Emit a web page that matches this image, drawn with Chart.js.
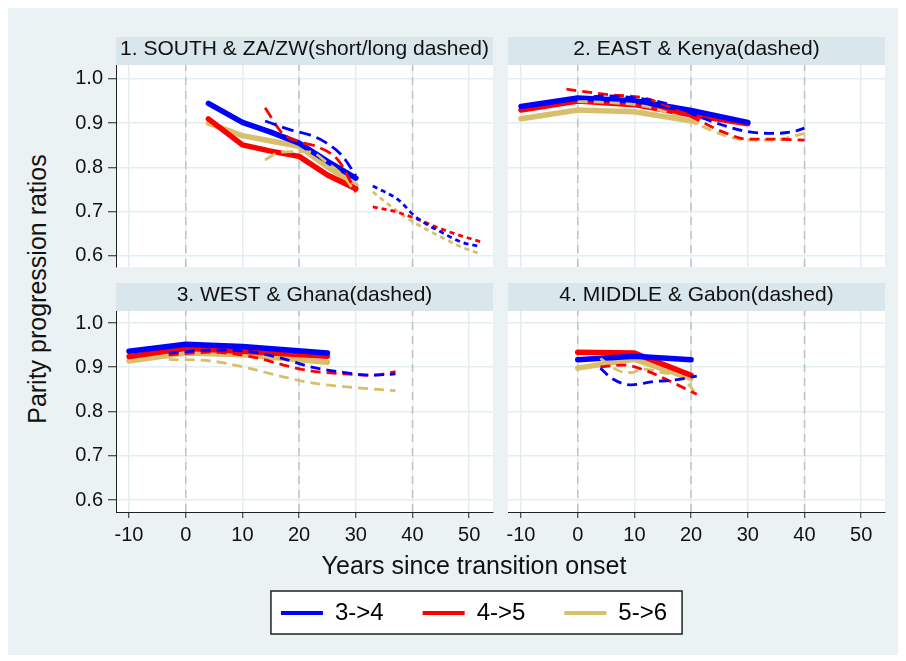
<!DOCTYPE html>
<html>
<head>
<meta charset="utf-8">
<script src="https://cdn.jsdelivr.net/npm/chart.js@4.4.0/dist/chart.umd.min.js"></script>
<style>
  body { margin: 0; width: 906px; height: 661px; background: #fff; position: relative; overflow: hidden;
         font-family: 'Liberation Sans', Arial, sans-serif; }
  #bg { position: absolute; left: 8px; top: 8px; width: 890px; height: 647px; background: #eaf2f3; }
  canvas { position: absolute; }
  #ytitle { position: absolute; left: -163px; top: 274px; width: 400px; height: 30px; line-height: 30px;
            text-align: center; font-size: 25px; color: #111; transform: rotate(-90deg); }
</style>
</head>
<body>
<div id="bg"></div>
<div id="ytitle">Parity progression ratios</div>
<canvas id="p1" width="500" height="232" style="left:0px;top:37px"></canvas>
<canvas id="p2" width="400" height="232" style="left:500px;top:37px"></canvas>
<canvas id="p3" width="500" height="274" style="left:0px;top:283px"></canvas>
<canvas id="p4" width="400" height="274" style="left:500px;top:283px"></canvas>
<canvas id="leg" width="600" height="200" style="left:174px;top:545px"></canvas>
<script>
// ---- data ----
const xTicks = [-10, 0, 10, 20, 30, 40, 50];
const yTicks = [0.6, 0.7, 0.8, 0.9, 1.0];
const vLines = [0, 20, 40];
const seriesNames = ['3->4', '4->5', '5->6'];
const panelTitles = ['1. SOUTH & ZA/ZW(short/long dashed)', '2. EAST & Kenya(dashed)',
                     '3. WEST & Ghana(dashed)', '4. MIDDLE & Gabon(dashed)'];

// 1. SOUTH region (solid)
const southX = [4, 10, 15, 20, 25, 30];
const south34 = [0.945, 0.902, 0.880, 0.855, 0.814, 0.776];
const south45 = [0.910, 0.851, 0.837, 0.825, 0.783, 0.752];
const south56 = [0.900, 0.872, 0.860, 0.848, 0.801, 0.760];
// ZA (long dashed)
const za34X = [14, 18.5, 22, 24.5, 27.5, 30];
const za34 = [0.905, 0.885, 0.873, 0.858, 0.828, 0.782];
const za45X = [14, 17, 20, 23, 27, 29, 30];
const za45 = [0.935, 0.878, 0.858, 0.848, 0.815, 0.770, 0.745];
const za56X = [14, 16, 19, 22, 25, 28, 30];
const za56 = [0.817, 0.832, 0.836, 0.835, 0.810, 0.778, 0.742];
// ZW (short dashed)
const zw34X = [33, 37.5, 40.5, 45.5, 48.5, 52];
const zw34 = [0.758, 0.727, 0.689, 0.651, 0.632, 0.621];
const zw45X = [33, 37, 40.5, 45.5, 52];
const zw45 = [0.711, 0.700, 0.685, 0.659, 0.632];
const zw56X = [33, 37, 40.5, 45.5, 48.5, 51.5];
const zw56 = [0.745, 0.704, 0.674, 0.640, 0.621, 0.607];

// 2. EAST region
const eastX = [-10, 0, 10, 20, 30];
const east34 = [0.938, 0.957, 0.951, 0.929, 0.902];
const east45 = [0.930, 0.950, 0.942, 0.919, 0.899];
const east56X = [-10, 0, 10, 21];
const east56 = [0.910, 0.930, 0.926, 0.903];
// Kenya (dashed)
const ke34X = [0, 5, 12.5, 15.5, 20, 25.5, 30, 34.5, 38, 40];
const ke34 = [0.955, 0.962, 0.953, 0.945, 0.922, 0.896, 0.881, 0.877, 0.881, 0.889];
const ke45X = [-2, 5, 12, 20, 25.5, 30, 34.5, 40];
const ke45 = [0.977, 0.965, 0.956, 0.915, 0.881, 0.864, 0.864, 0.862];
const ke56X = [0, 5, 12, 20, 25.5, 30, 34.5, 40];
const ke56 = [0.949, 0.947, 0.938, 0.904, 0.874, 0.862, 0.862, 0.877];

// 3. WEST region
const westX = [-10, 0, 10, 25];
const west34 = [0.936, 0.952, 0.947, 0.932];
const west45 = [0.924, 0.943, 0.936, 0.925];
const west56 = [0.914, 0.932, 0.928, 0.911];
// Ghana (dashed)
const gh34X = [-3, 4.5, 11.5, 17, 22, 27, 33, 37];
const gh34 = [0.932, 0.939, 0.935, 0.920, 0.901, 0.890, 0.882, 0.885];
const gh45X = [-3, 4.5, 11.5, 18.5, 22, 28, 33, 37];
const gh45 = [0.928, 0.934, 0.924, 0.901, 0.892, 0.885, 0.882, 0.890];
const gh56X = [-3, 4.5, 10, 17, 22, 28, 37];
const gh56 = [0.918, 0.914, 0.901, 0.879, 0.865, 0.856, 0.847];

// 4. MIDDLE region
const midX = [0, 10, 20];
const mid34 = [0.917, 0.925, 0.917];
const mid45 = [0.934, 0.932, 0.882];
const mid56 = [0.898, 0.918, 0.875];
// Gabon (dashed)
const ga34X = [4, 6, 9.5, 13, 17, 21];
const ga34 = [0.898, 0.875, 0.860, 0.867, 0.871, 0.880];
const ga45X = [4, 8, 12.5, 16.5, 21];
const ga45 = [0.901, 0.905, 0.890, 0.867, 0.839];
const ga56X = [4, 5.5, 7.5, 9.5, 11.5, 15, 18, 19.5, 21];
const ga56 = [0.920, 0.905, 0.891, 0.888, 0.896, 0.888, 0.879, 0.862, 0.838];

// ---- styling ----
const BLUE = '#0000ff', RED = '#ff0000', TAN = '#d8bf6c';
const GRID = '#e4edef';
const FONT = "'Liberation Sans', Arial, sans-serif";
Chart.defaults.font.family = FONT;
Chart.defaults.color = '#111';

const X_MIN = -12.3, X_MAX = 54.2;

// header strip + white plot background
const headerStrip = {
  id: 'headerStrip',
  beforeDraw(chart, args, opts) {
    const { ctx, chartArea: a } = chart;
    ctx.save();
    ctx.fillStyle = '#d9e6eb';
    ctx.fillRect(a.left, 0, a.right - a.left, a.top);
    ctx.fillStyle = '#ffffff';
    ctx.fillRect(a.left, a.top, a.right - a.left, a.bottom - a.top);
    ctx.fillStyle = '#111';
    ctx.font = '21px ' + FONT;
    ctx.textAlign = 'center';
    ctx.textBaseline = 'middle';
    ctx.fillText(opts.text, (a.left + a.right) / 2, a.top / 2 - 1.5);
    ctx.restore();
  }
};

function line(xs, ys, color, width, dash) {
  return {
    data: xs.map((x, i) => ({ x: x, y: ys[i] })),
    borderColor: color,
    borderWidth: width,
    borderDash: dash || [],
    borderCapStyle: dash ? 'butt' : 'round',
    borderJoinStyle: 'round',
    pointRadius: 0,
    fill: false,
    tension: 0,
    cubicInterpolationMode: dash ? 'monotone' : 'default'
  };
}

function makePanel(id, title, sets, yMin, yMax, left, bottom) {
  // grey dashed reference lines at the bottom of the stack
  const refs = vLines.map(v => ({
    data: [{ x: v, y: yMin }, { x: v, y: yMax }],
    borderColor: '#c2c2c2', borderWidth: 1.5, borderDash: [8, 6],
    pointRadius: 0, fill: false
  }));
  new Chart(document.getElementById(id), {
    type: 'line',
    data: { datasets: sets.concat(refs) },
    options: {
      responsive: false,
      animation: false,
      layout: { padding: { top: 28, left: left ? 0 : 8, right: left ? 7 : 15, bottom: bottom ? 0 : 2 } },
      plugins: { legend: { display: false }, tooltip: { enabled: false }, headerStrip: { text: title } },
      scales: {
        x: {
          type: 'linear', min: X_MIN, max: X_MAX,
          afterBuildTicks: s => { s.ticks = xTicks.map(v => ({ value: v })); },
          afterFit: s => { s.height = bottom ? 45 : 0; s.paddingLeft = 0; s.paddingRight = 0; },
          grid: { color: GRID, lineWidth: 1.5, drawTicks: bottom, tickLength: 6, tickColor: '#222', tickWidth: 1 },
          border: { display: bottom, color: '#222', width: 1 },
          ticks: { display: bottom, padding: 5, font: { size: 20 }, color: '#111', maxRotation: 0, autoSkip: false,
                   callback: v => String(v) }
        },
        y: {
          type: 'linear', min: yMin, max: yMax,
          afterBuildTicks: s => { s.ticks = yTicks.map(v => ({ value: v })); },
          afterFit: s => { s.width = left ? 116 : 0; s.paddingTop = 0; s.paddingBottom = 0; },
          grid: { color: GRID, lineWidth: 1.5, drawTicks: left, tickLength: 8, tickColor: '#222', tickWidth: 1 },
          border: { display: left, color: '#222', width: 1 },
          ticks: { display: left, padding: 5, font: { size: 20 }, color: '#111', autoSkip: false,
                   callback: v => v.toFixed(1) }
        }
      }
    },
    plugins: [headerStrip]
  });
}

const SW = 5.5, DW = 2.8;
const LONG = [12, 6], SHORT = [5, 4], DASH = [10, 6];

makePanel('p1', panelTitles[0], [
  line(za34X, za34, BLUE, DW, LONG), line(za45X, za45, RED, DW, LONG), line(za56X, za56, TAN, DW, LONG),
  line(zw34X, zw34, BLUE, DW, SHORT), line(zw45X, zw45, RED, DW, SHORT), line(zw56X, zw56, TAN, DW, SHORT),
  line(southX, south34, BLUE, SW), line(southX, south45, RED, SW), line(southX, south56, TAN, SW)
], 0.5751, 1.0316, true, false);

makePanel('p2', panelTitles[1], [
  line(ke34X, ke34, BLUE, DW, DASH), line(ke45X, ke45, RED, DW, DASH), line(ke56X, ke56, TAN, DW, DASH),
  line(eastX, east34, BLUE, SW), line(eastX, east45, RED, SW), line(east56X, east56, TAN, SW)
], 0.5751, 1.0316, false, false);

makePanel('p3', panelTitles[2], [
  line(gh34X, gh34, BLUE, DW, DASH), line(gh45X, gh45, RED, DW, DASH), line(gh56X, gh56, TAN, DW, DASH),
  line(westX, west34, BLUE, SW), line(westX, west45, RED, SW), line(westX, west56, TAN, SW)
], 0.5729, 1.0271, true, true);

makePanel('p4', panelTitles[3], [
  line(ga34X, ga34, BLUE, DW, DASH), line(ga45X, ga45, RED, DW, DASH), line(ga56X, ga56, TAN, DW, DASH),
  line(midX, mid34, BLUE, SW), line(midX, mid45, RED, SW), line(midX, mid56, TAN, SW)
], 0.5729, 1.0271, false, true);

// x-axis title + boxed legend
const legendBox = {
  id: 'legendBox',
  beforeDraw(chart) {
    const hb = chart.legend.legendHitBoxes;
    if (!hb || !hb.length) return;
    const first = hb[0], last = hb[hb.length - 1];
    const x0 = first.left - 10, x1 = last.left + last.width + 15;
    const y0 = first.top - 10, y1 = first.top + first.height + 9;
    const ctx = chart.ctx;
    ctx.save();
    ctx.fillStyle = '#fff';
    ctx.fillRect(x0, y0, x1 - x0, y1 - y0);
    ctx.strokeStyle = '#222';
    ctx.lineWidth = 1.5;
    ctx.strokeRect(x0, y0, x1 - x0, y1 - y0);
    ctx.restore();
  }
};
const legColors = [BLUE, RED, TAN];
new Chart(document.getElementById('leg'), {
  type: 'line',
  data: { datasets: seriesNames.map((n, i) => ({ label: n, data: [], borderColor: legColors[i], backgroundColor: legColors[i] })) },
  options: {
    responsive: false,
    animation: false,
    plugins: {
      // legend padding (39) also pads vertically, so the title's bottom padding pulls it back up
      title: { display: true, text: 'Years since transition onset', font: { size: 25, weight: 'normal' }, color: '#111',
               padding: { top: 7, bottom: -20 } },
      legend: {
        display: true, position: 'top',
        labels: {
          boxWidth: 42, boxHeight: 4, padding: 39, font: { size: 24 }, color: '#111',
          generateLabels: chart => chart.data.datasets.map((d, i) => ({
            text: d.label, fillStyle: d.borderColor, strokeStyle: d.borderColor, lineWidth: 0, hidden: false, datasetIndex: i
          }))
        }
      },
      tooltip: { enabled: false }
    },
    scales: { x: { display: false }, y: { display: false } }
  },
  plugins: [legendBox]
});
</script>
</body>
</html>
